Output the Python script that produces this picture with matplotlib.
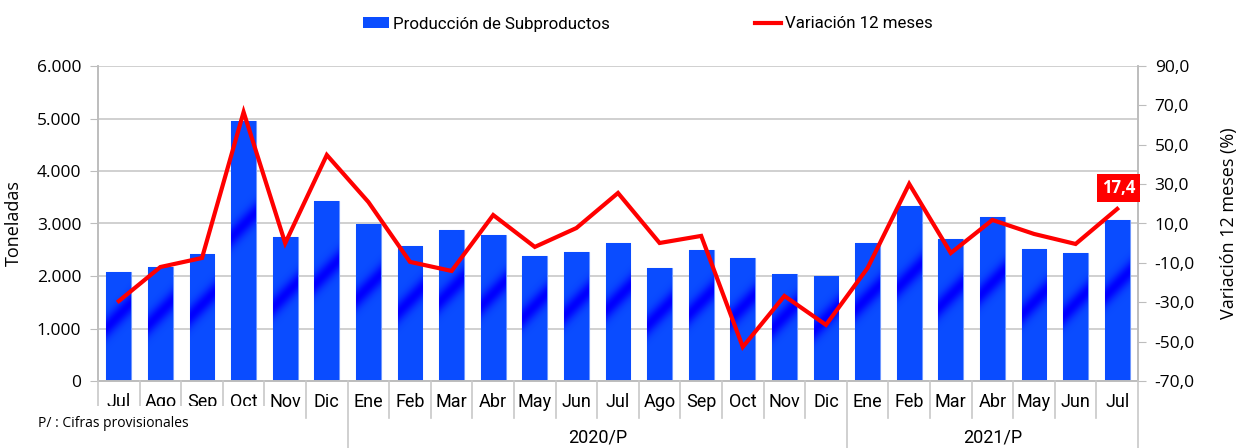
import numpy as np
import matplotlib.pyplot as plt
from matplotlib.transforms import blended_transform_factory
from matplotlib.lines import Line2D
from matplotlib.patches import Patch

meses = ['Jul', 'Ago', 'Sep', 'Oct', 'Nov', 'Dic',
         'Ene', 'Feb', 'Mar', 'Abr', 'May', 'Jun', 'Jul', 'Ago', 'Sep', 'Oct', 'Nov', 'Dic',
         'Ene', 'Feb', 'Mar', 'Abr', 'May', 'Jun', 'Jul']
anios = ['', '2020/P', '2021/P']
grupo_inicio = [0, 6, 18, 25]

produccion = [2076, 2170, 2420, 4950, 2740, 3430,
              2990, 2570, 2880, 2780, 2380, 2460, 2630, 2150, 2500, 2340, 2040, 2000,
              2630, 3330, 2700, 3120, 2510, 2440, 3070]
variacion = [-29.4, -12.1, -7.5, 66.6, 0.0, 44.8,
             20.9, -9.5, -14.1, 14.3, -1.9, 7.7, 25.5, 0.1, 3.7, -52.7, -26.8, -41.5,
             -12.6, 30.1, -5.0, 11.8, 4.7, -0.4, 17.4]

fig = plt.figure(figsize=(12.38, 4.48), dpi=100)
ax = fig.add_axes([98 / 1238, 1 - 381 / 448, 1040 / 1238, 315 / 448])
ax2 = ax.twinx()

x = np.arange(len(meses))
bw = 0.6
bars = ax.bar(x, produccion, width=bw, color='#0A4DFF', edgecolor='#6f98ff', lw=0.8, zorder=2)

# diagonal darker stripe in each bar, like the original gradient fill
base = np.array([0.04, 0.30, 1.0])
dark = np.array([0.0, 0.0, 1.0])
for b, v in zip(bars, produccion):
    hp = max(int(v / 1000 * 52.5), 2)
    wp = 25
    ii, jj = np.mgrid[0:hp, 0:wp]
    d = (ii - hp * 0.6) - (jj - wp / 2)
    t = np.exp(-(d / 11.0) ** 2)[..., None]
    img = base * (1 - t) + dark * t
    im = ax.imshow(img, origin='lower', aspect='auto', zorder=2.1,
                   extent=[b.get_x(), b.get_x() + b.get_width(), 0, v], interpolation='bilinear')
    im.set_clip_path(b)

ax2.plot(x, variacion, color='#FF0000', lw=3, zorder=3, solid_joinstyle='miter')

ax.set_xlim(-0.5, len(meses) - 0.5)
ax.set_ylim(0, 6000)
ax2.set_ylim(-70, 90)
ax.set_yticks(range(0, 6001, 1000))
ax.set_yticklabels(['0'] + ['{:.3f}'.format(v / 1000) for v in range(1000, 6001, 1000)])
ax2.set_yticks(range(-70, 91, 20))
ax2.set_yticklabels(['{:.1f}'.format(v).replace('.', ',') for v in range(-70, 91, 20)])

ax.grid(axis='y', color='#c8c8c8', lw=1.2, zorder=0)
ax.set_axisbelow(True)
for a in (ax, ax2):
    a.spines['top'].set_visible(False)
    for s in ('left', 'right', 'bottom'):
        a.spines[s].set_color('#bdbdbd')
        a.spines[s].set_linewidth(1.2)
    a.tick_params(axis='y', length=6, color='#bdbdbd', labelsize=12.5, pad=6)
    for lab in a.get_yticklabels():
        lab.set_family('Open Sans')
ax.set_xticks([])

ax.set_ylabel('Toneladas', fontsize=13, family='Open Sans', labelpad=10)
ax2.set_ylabel('Variación 12 meses (%)', fontsize=13, family='Open Sans', labelpad=18)

# two-level category axis
tr = blended_transform_factory(ax.transData, fig.transFigure)
cond = ['Roboto', 'DejaVu Sans']
for i, m in enumerate(meses):
    ax.text(i, 1 - 402 / 448, m, transform=tr, ha='center', va='center', fontsize=13, family=cond)
for k in range(len(meses) + 1):
    top = 1 - 381 / 448
    bot = 1 - 418 / 448
    if k in grupo_inicio:
        bot = 0
    fig.add_artist(Line2D([k - 0.5, k - 0.5], [top, bot], transform=tr, color='#c8c8c8', lw=1.2))
for g, nombre in enumerate(anios):
    c = (grupo_inicio[g] + grupo_inicio[g + 1] - 1) / 2
    ax.text(c, 1 - 437 / 448, nombre, transform=tr, ha='center', va='center', fontsize=13, family=cond)

# white box with the footnote, it covers the bottom of the first labels
fig.add_artist(plt.Rectangle((0, 0), 268 / 1238, 42 / 448, transform=fig.transFigure,
                             facecolor='white', edgecolor='none', zorder=5))
fig.text(38 / 1238, 1 - 423 / 448, 'P/ : Cifras provisionales', fontsize=10, family='Open Sans',
         va='center', ha='left', zorder=6)

# last value label
ax2.annotate('17,4', xy=(x[-1], variacion[-1]), xytext=(1, 15), textcoords='offset points',
             ha='center', va='center', color='white', fontsize=12, fontweight='bold', family='Open Sans',
             bbox=dict(facecolor='#FF0000', edgecolor='none', boxstyle='square,pad=0.3'), zorder=4)

# legend
handles = [Patch(facecolor='#0A4DFF', edgecolor='none'),
           Line2D([], [], color='#FF0000', lw=3)]
fig.legend(handles, ['Producción de Subproductos', 'Variación 12 meses'], loc='center',
           bbox_to_anchor=(648 / 1238, 1 - 24 / 448), ncol=2, frameon=False, columnspacing=8.6,
           handlelength=1.5, handletextpad=0.25, prop={'family': cond, 'size': 12.2})

fig.savefig('out.png', dpi=100)
